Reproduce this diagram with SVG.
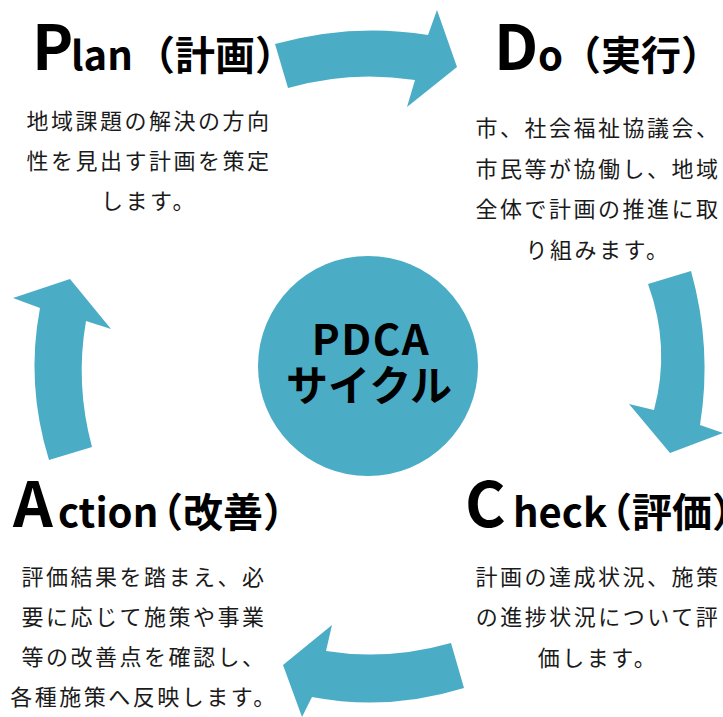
<svg xmlns="http://www.w3.org/2000/svg" width="723" height="717" viewBox="0 0 723 717">
<style>
.arrow{fill:#4BACC6;}
.big{font-family:"Noto Sans CJK JP","Noto Sans",sans-serif;font-weight:bold;fill:#000;}
.body{font-family:"Noto Sans CJK JP",sans-serif;font-size:22px;letter-spacing:2.5px;fill:#1a1a1a;text-anchor:middle;}
.center{font-family:"Noto Sans CJK JP",sans-serif;font-weight:bold;font-size:42px;fill:#000;text-anchor:middle;}
</style>
<rect width="723" height="717" fill="#fff"/>
<g id="connectors">
<path class="arrow" d="M275,44 Q352.5,22.5 428,35 L437,10 L457,67 L407,107 L415,80 Q350.5,70 288,88 Z"/>
<path class="arrow" d="M648,284 L691,271 Q712.5,348 700,425 L723,433 L670,453 L629,404 L654,410 Q671,347 648,284 Z"/>
<path class="arrow" d="M451,643 Q387.5,661 326,651 L332,625 L283,665 L302,717 L312,697 Q388,711.5 464,688 Z"/>
<path class="arrow" d="M49,460 L92,447 Q75,384 86,321 L111,329 L70,279 L13,298 L40,308 Q25.5,384 49,460 Z"/>
</g>
<g id="center">
<circle cx="368" cy="366" r="110" fill="#4BACC6"/>
<text class="center" x="371" y="355" font-size="44" letter-spacing="1.5">PDCA</text>
<text class="center" x="369" y="401">サイクル</text>
</g>
<g id="plan">
<text class="big"><tspan x="32" y="70" font-size="62">P</tspan><tspan x="71" y="70" font-size="40">lan</tspan><tspan x="135" y="70" font-size="40">（計画）</tspan></text>
<text class="body" x="149" y="129">地域課題の解決の方向</text>
<text class="body" x="149" y="169">性を見出す計画を策定</text>
<text class="body" x="149" y="209">します。</text>
</g>
<g id="do">
<text class="big"><tspan x="494" y="70" font-size="62">D</tspan><tspan x="538" y="70" font-size="40">o</tspan><tspan x="561" y="70" font-size="40">（実行）</tspan></text>
<text class="body" x="598" y="136">市、社会福祉協議会、</text>
<text class="body" x="598" y="177">市民等が協働し、地域</text>
<text class="body" x="598" y="217">全体で計画の推進に取</text>
<text class="body" x="598" y="258">り組みます。</text>
</g>
<g id="check">
<text class="big"><tspan x="465" y="527" font-size="62">C</tspan><tspan x="513" y="527" font-size="40">heck</tspan><tspan x="592" y="527" font-size="40">（評価）</tspan></text>
<text class="body" x="598" y="585">計画の達成状況、施策</text>
<text class="body" x="598" y="625">の進捗状況について評</text>
<text class="body" x="598" y="666">価します。</text>
</g>
<g id="action">
<text class="big"><tspan x="13" y="527" font-size="62">A</tspan><tspan x="58" y="527" font-size="40">ction</tspan><tspan x="143" y="527" font-size="40">（改善）</tspan></text>
<text class="body" x="144" y="585">評価結果を踏まえ、必</text>
<text class="body" x="144" y="625">要に応じて施策や事業</text>
<text class="body" x="144" y="665">等の改善点を確認し、</text>
<text class="body" x="144" y="705">各種施策へ反映します。</text>
</g>
</svg>
